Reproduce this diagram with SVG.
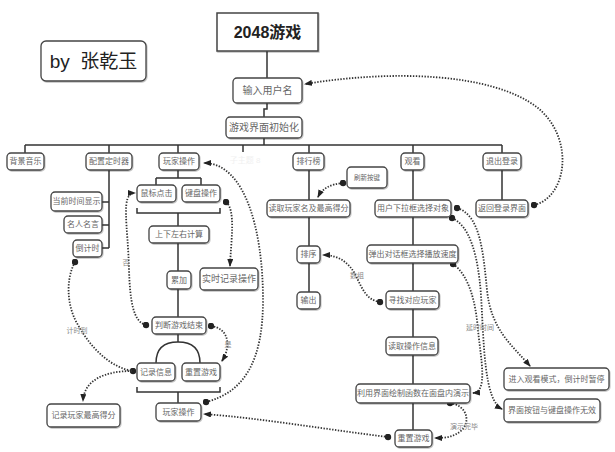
<svg xmlns="http://www.w3.org/2000/svg" width="615" height="452" viewBox="0 0 615 452">
<style>
.box{fill:#fff;stroke:#444;stroke-width:1.3}
.t{font-family:"Liberation Sans","Noto Sans CJK SC",sans-serif;font-size:8px;fill:#666;text-anchor:middle;dominant-baseline:central}
.ln{stroke:#333;stroke-width:1.5;fill:none}
.dl{stroke:#333;stroke-width:1.8;stroke-dasharray:1.4 1.5;fill:none}
.lb{font-family:"Liberation Sans","Noto Sans CJK SC",sans-serif;font-size:7px;fill:#888;text-anchor:middle;dominant-baseline:central}
</style>
<defs>
<filter id="sh" x="-10%" y="-10%" width="130%" height="140%">
<feDropShadow dx="0.8" dy="1" stdDeviation="0.6" flood-color="#000" flood-opacity="0.25"/>
</filter>
<marker id="ar" viewBox="0 0 8 6" refX="7" refY="3" markerWidth="8" markerHeight="6" markerUnits="userSpaceOnUse" orient="auto"><path d="M0,0 L8,3 L0,6 z" fill="#222"/></marker>
<marker id="dt" viewBox="0 0 7 7" refX="3.5" refY="3.5" markerWidth="7" markerHeight="7" markerUnits="userSpaceOnUse"><circle cx="3.5" cy="3.5" r="3.2" fill="#222"/></marker>
</defs>
<rect width="615" height="452" fill="#fff"/>
<g id="connectors">
<path class="ln" d="M267,51 V78 M267,103 V109 H264 V117 M264,138 V145 M25,145 H502 M25,145 V153 M109,145 V153 M178,145 V153 M243,145 V152 M309,145 V153 M413,145 V153 M502,145 V153"/>
<path class="ln" d="M109,170 V248 M102,202 H109 M102,225 H109 M102,248 H109"/>
<path class="ln" d="M178,170 V178 M156,178 H201 M156,178 V185 M201,178 V185 M137,208 V213 H220 V208 M178,213 V226 M178,243 V271 M178,289 V317 M178,334 V342"/>
<path class="ln" d="M156,363 C156,348 165,342 178,342 C191,342 200,348 200,363"/>
<path class="ln" d="M137,387 V392 H220 V387 M178,392 V403"/>
<path class="ln" d="M309,170 V292 M413,170 V430 M502,170 V200"/>
<path class="dl" marker-start="url(#dt)" marker-end="url(#ar)" d="M534,205 C566,198 576,140 538,108 C492,72 390,70 305,84"/>
<path class="dl" marker-start="url(#dt)" marker-end="url(#ar)" d="M206,402 C245,392 263,360 263,300 C263,230 245,163 204,163"/>
<path class="dl" marker-start="url(#dt)" marker-end="url(#ar)" d="M146,325 C133,322 130,300 129,270 C128,225 120,193 135,193"/>
<path class="dl" marker-start="url(#dt)" marker-end="url(#ar)" d="M226,202 C236,210 231,240 230,266"/>
<path class="dl" marker-start="url(#dt)" marker-end="url(#ar)" d="M211,326 C228,328 232,345 222,361"/>
<path class="dl" marker-start="url(#dt)" marker-end="url(#dt)" d="M75,262 C66,278 66,305 78,325 C92,350 112,368 133,371"/>
<path class="dl" marker-end="url(#ar)" d="M132,371 C105,371 84,380 83,401"/>
<path class="dl" marker-start="url(#dt)" marker-end="url(#ar)" d="M343,183 C330,184 322,189 318,197"/>
<path class="dl" marker-start="url(#dt)" marker-end="url(#ar)" d="M380,302 C366,300 362,288 356,276 C349,262 338,255 323,255"/>
<path class="dl" marker-start="url(#dt)" marker-end="url(#ar)" d="M457,208 C480,215 483,250 487,290 C491,330 512,345 530,366"/>
<path class="dl" marker-start="url(#dt)" marker-end="url(#ar)" d="M452,218 C470,226 478,255 481,295 C484,345 484,400 502,409"/>
<path class="dl" marker-start="url(#dt)" marker-end="url(#ar)" d="M453,264 C470,276 476,305 478,330 C481,360 488,392 473,393"/>
<path class="dl" marker-start="url(#dt)" marker-end="url(#ar)" d="M450,403 C468,406 470,422 462,430 C454,437 446,438 435,438"/>
<path class="dl" marker-start="url(#dt)" marker-end="url(#ar)" d="M388,437 C330,430 260,418 204,414"/>
<text class="lb" x="126" y="262">否</text>
<text class="lb" x="228" y="344">是</text>
<text class="lb" x="77" y="330">计时到</text>
<text class="lb" x="357" y="275">数组</text>
<text class="lb" x="480" y="327">延时时间</text>
<text class="lb" x="464" y="426">演示完毕</text>
</g>
<g id="title"><rect x="217" y="13" width="101" height="38" fill="#fff" stroke="#444" stroke-width="1.5" filter="url(#sh)"/><text x="267.5" y="32" style="font-family:'Liberation Sans','Noto Sans CJK SC',sans-serif;font-size:16px;font-weight:bold;fill:#222;text-anchor:middle;dominant-baseline:central">2048游戏</text></g>
<g id="author"><rect class="box" x="41" y="41" width="105" height="40" rx="5" filter="url(#sh)"/><text x="93.5" y="61" style="font-family:'Liberation Sans','Noto Sans CJK SC',sans-serif;font-size:19px;fill:#222;text-anchor:middle;dominant-baseline:central" xml:space="preserve">by  张乾玉</text></g>
<g id="input"><rect class="box" x="233" y="78" width="69" height="25" rx="4" filter="url(#sh)"/><text class="t" x="267.5" y="90.5" style="font-size:10px">输入用户名</text></g>
<g id="init"><rect class="box" x="226" y="117" width="76" height="21" rx="4" filter="url(#sh)"/><text class="t" x="264" y="127.5" style="font-size:10px">游戏界面初始化</text></g>
<g id="bgm"><rect class="box" x="7" y="153" width="37" height="17" rx="4" filter="url(#sh)"/><text class="t" x="25.5" y="161.5">背景音乐</text></g>
<g id="timer"><rect class="box" x="86" y="153" width="46" height="17" rx="4" filter="url(#sh)"/><text class="t" x="109" y="161.5">配置定时器</text></g>
<g id="play1"><rect class="box" x="159" y="153" width="40" height="17" rx="4" filter="url(#sh)"/><text class="t" x="179" y="161.5">玩家操作</text></g>
<g id="sub8"><text class="t" x="245" y="160" style="fill:#f0f0f0">子主题 8</text></g>
<g id="rank"><rect class="box" x="293" y="153" width="31" height="17" rx="4" filter="url(#sh)"/><text class="t" x="308.5" y="161.5">排行榜</text></g>
<g id="watch"><rect class="box" x="401" y="153" width="23" height="17" rx="4" filter="url(#sh)"/><text class="t" x="412.5" y="161.5">观看</text></g>
<g id="logout"><rect class="box" x="483" y="153" width="38" height="17" rx="4" filter="url(#sh)"/><text class="t" x="502" y="161.5">退出登录</text></g>
<g id="now"><rect class="box" x="51" y="192" width="51" height="19" rx="4" filter="url(#sh)"/><text class="t" x="76.5" y="201.5">当前时间显示</text></g>
<g id="quote"><rect class="box" x="64" y="216" width="38" height="17" rx="4" filter="url(#sh)"/><text class="t" x="83" y="224.5">名人名言</text></g>
<g id="count"><rect class="box" x="73" y="240" width="29" height="17" rx="4" filter="url(#sh)"/><text class="t" x="87.5" y="248.5">倒计时</text></g>
<g id="mouse"><rect class="box" x="137" y="185" width="39" height="17" rx="4" filter="url(#sh)"/><text class="t" x="156.5" y="193.5">鼠标点击</text></g>
<g id="kbd"><rect class="box" x="182" y="185" width="38" height="17" rx="4" filter="url(#sh)"/><text class="t" x="201" y="193.5">键盘操作</text></g>
<g id="calc"><rect class="box" x="149" y="226" width="60" height="17" rx="4" filter="url(#sh)"/><text class="t" x="179" y="234.5">上下左右计算</text></g>
<g id="acc"><rect class="box" x="167" y="271" width="24" height="18" rx="4" filter="url(#sh)"/><text class="t" x="179" y="280">累加</text></g>
<g id="recop"><rect class="box" x="200" y="268" width="58" height="22" rx="4" filter="url(#sh)"/><text class="t" x="229" y="279" style="font-size:9px">实时记录操作</text></g>
<g id="judge"><rect class="box" x="152" y="317" width="54" height="17" rx="4" filter="url(#sh)"/><text class="t" x="179" y="325.5">判断游戏结束</text></g>
<g id="recinfo"><rect class="box" x="137" y="363" width="38" height="18" rx="4" filter="url(#sh)"/><text class="t" x="156" y="372">记录信息</text></g>
<g id="reset1"><rect class="box" x="182" y="363" width="38" height="18" rx="4" filter="url(#sh)"/><text class="t" x="201" y="372">重置游戏</text></g>
<g id="play2"><rect class="box" x="156" y="403" width="45" height="18" rx="4" filter="url(#sh)"/><text class="t" x="178.5" y="412">玩家操作</text></g>
<g id="hiscore"><rect class="box" x="47" y="404" width="73" height="23" rx="4" filter="url(#sh)"/><text class="t" x="83.5" y="415.5">记录玩家最高得分</text></g>
<g id="readrank"><rect class="box" x="267" y="200" width="83" height="17" rx="4" filter="url(#sh)"/><text class="t" x="308.5" y="208.5">读取玩家名及最高得分</text></g>
<g id="refresh"><rect class="box" x="347" y="167" width="40" height="21" rx="4" filter="url(#sh)"/><text class="t" x="367" y="177.5" style="font-size:6.5px">刷新按键</text></g>
<g id="sort"><rect class="box" x="297" y="246" width="23" height="17" rx="4" filter="url(#sh)"/><text class="t" x="308.5" y="254.5">排序</text></g>
<g id="out"><rect class="box" x="297" y="292" width="23" height="17" rx="4" filter="url(#sh)"/><text class="t" x="308.5" y="300.5">输出</text></g>
<g id="select"><rect class="box" x="375" y="200" width="76" height="17" rx="4" filter="url(#sh)"/><text class="t" x="413" y="208.5">用户下拉框选择对象</text></g>
<g id="popup"><rect class="box" x="367" y="245" width="91" height="18" rx="4" filter="url(#sh)"/><text class="t" x="412.5" y="254">弹出对话框选择播放速度</text></g>
<g id="find"><rect class="box" x="386" y="291" width="53" height="18" rx="4" filter="url(#sh)"/><text class="t" x="412.5" y="300">寻找对应玩家</text></g>
<g id="readop"><rect class="box" x="386" y="337" width="52" height="18" rx="4" filter="url(#sh)"/><text class="t" x="412" y="346">读取操作信息</text></g>
<g id="demo"><rect class="box" x="356" y="384" width="114" height="19" rx="4" filter="url(#sh)"/><text class="t" x="413" y="393.5">利用界面绘制函数在面盘内演示</text></g>
<g id="reset2"><rect class="box" x="395" y="430" width="37" height="17" rx="4" filter="url(#sh)"/><text class="t" x="413.5" y="438.5">重置游戏</text></g>
<g id="back"><rect class="box" x="476" y="200" width="52" height="17" rx="4" filter="url(#sh)"/><text class="t" x="502" y="208.5">返回登录界面</text></g>
<g id="enter"><rect class="box" x="504" y="368" width="105" height="22" rx="4" filter="url(#sh)"/><text class="t" x="556.5" y="379">进入观看模式，倒计时暂停</text></g>
<g id="invalid"><rect class="box" x="504" y="399" width="96" height="23" rx="4" filter="url(#sh)"/><text class="t" x="552" y="410.5">界面按钮与键盘操作无效</text></g>
</svg>
